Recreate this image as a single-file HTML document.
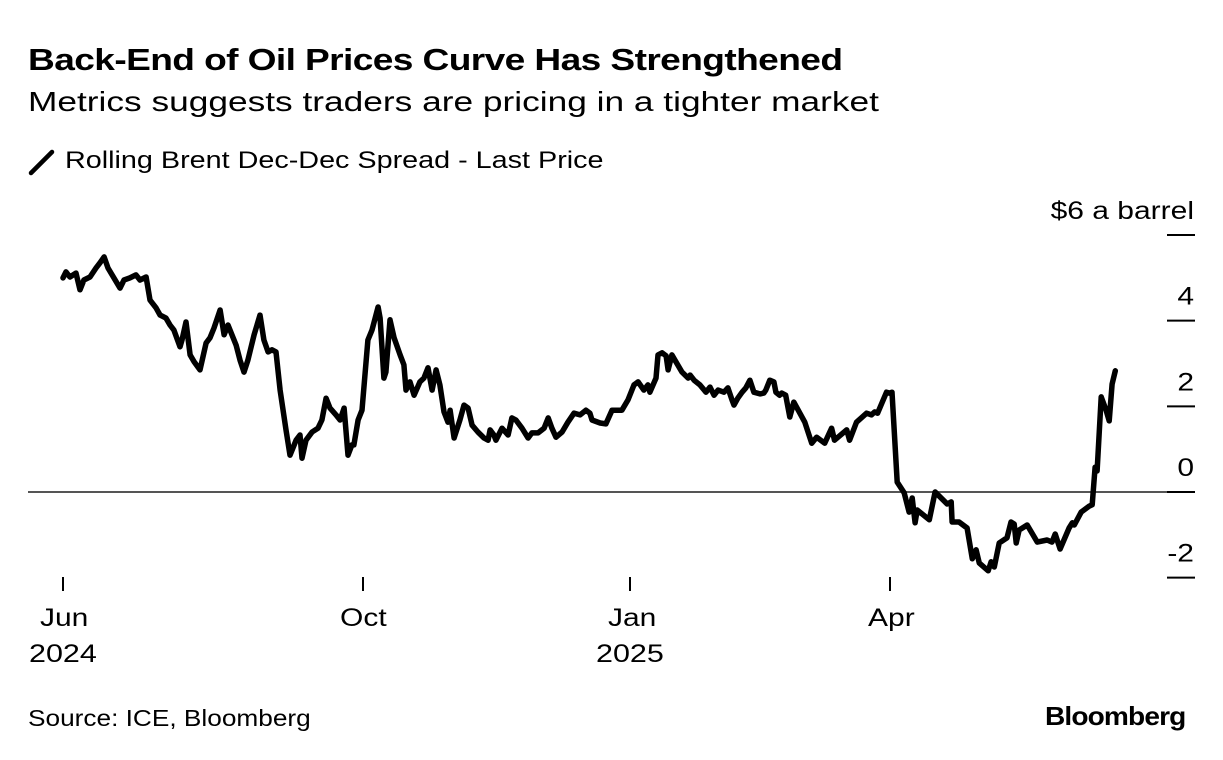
<!DOCTYPE html>
<html><head><meta charset="utf-8">
<style>
html,body{margin:0;padding:0;background:#fff;}
body{width:1223px;height:760px;overflow:hidden;font-family:"Liberation Sans",Arial,sans-serif;color:#000;position:relative;}
.t{position:absolute;white-space:nowrap;transform-origin:0 0;}
</style></head>
<body>
<div class="t" style="left:28px;top:42px;font-size:31px;font-weight:bold;letter-spacing:-0.5px;transform:scaleX(1.197);">Back-End of Oil Prices Curve Has Strengthened</div>
<div class="t" style="left:28px;top:86px;font-size:28px;transform:scaleX(1.26);">Metrics suggests traders are pricing in a tighter market</div>
<svg width="28" height="28" style="position:absolute;left:28px;top:148px"><line x1="3" y1="25" x2="24" y2="4" stroke="#000" stroke-width="4.5" stroke-linecap="round"/></svg>
<div class="t" style="left:65px;top:147px;font-size:24px;transform:scaleX(1.198);">Rolling Brent Dec-Dec Spread - Last Price</div>
<svg id="chart" width="1223" height="760" style="position:absolute;left:0;top:0"></svg>
<div class="t" style="left:28px;top:705px;font-size:23px;transform:scaleX(1.14);">Source: ICE, Bloomberg</div>
<div class="t" style="left:1045px;top:701px;font-size:26px;font-weight:bold;letter-spacing:-0.8px;transform:scaleX(1.08);">Bloomberg</div>
<script>
const days=[0,1.2,2.8,5.3,6.9,8.5,11,13.4,15,16.7,18.3,20.7,23.2,24.8,27.2,29.7,31.3,33.8,35.4,37.8,39.5,41.9,43.5,45.1,47.6,48.4,50,51.7,53.3,55.7,58.2,59.8,61.4,63.9,65.5,67.1,70.4,72,73.6,75.2,77.7,80.1,81.7,83.4,85,86.6,88.3,90.7,92.3,94.8,96.4,97.2,98.8,101.3,103.7,105.3,107,108.6,111,112.7,114.3,115.9,117.5,118.3,120,121.6,
123.7,125.1,127.2,127.9,129.2,129.9,131.3,132.7,134.8,136.1,136.8,138.2,139.6,141.6,143,144.4,145.8,146.5,147.2,148.5,149.9,151.3,152,153.4,155.4,156.8,158.2,159.6,161.6,163.7,165.1,165.8,167.1,167.8,169.9,172,173.3,174.7,176.8,178.9,180.2,182.3,184.4,185.8,187.1,188.5,190.6,192.6,194.7,196.8,198.8,200.2,200.9,203.7,205.7,207.8,209.2,211.2,213.3,
215.4,216.8,218.8,220.2,220.9,223,223.7,225.1,226.5,227.2,228.5,229.9,232,234.1,234.8,236.2,238.2,240.3,241.7,243.1,244.5,246.5,247.9,249.3,250,251.3,252.8,254.1,255.5,256.9,259,260.3,261,262.4,263.8,264.5,265.8,266.5,267.9,269.3,270.7,274.5,276.9,278.6,281.4,283.8,284.8,289,290,292.4,295.9,297.6,298.7,299.7,302.8,303.8,304.7,306.5,308.9,310.6,311.7,312.7,313.4,317.6,319.6,323.8,325.2,325.5,327.9,330.7,332.5,333.8,334.9,338,339,340.1,341.8,344.5,345.9,347,347.7,348.7,351.5,355,358.4,360.1,361.2,362.9,366,367.1,367.8,370.2,373,374,375,375.7,377.1,378.8,379.9,380.9,382];
const spread=[5.00,5.14,5.02,5.11,4.72,4.95,5.02,5.23,5.35,5.49,5.23,5.00,4.76,4.95,5.00,5.07,4.95,5.02,4.48,4.30,4.13,4.06,3.90,3.78,3.39,3.55,3.97,3.20,3.04,2.85,3.48,3.60,3.83,4.25,3.67,3.90,3.43,3.08,2.80,3.08,3.67,4.13,3.55,3.27,3.32,3.27,2.38,1.45,0.86,1.21,1.33,0.79,1.21,1.40,1.49,1.68,2.19,1.96,1.80,1.68,1.96,0.86,1.10,1.10,1.68,1.91,
3.55,3.78,4.32,4.06,2.66,2.80,4.02,3.60,3.20,2.97,2.38,2.57,2.26,2.57,2.66,2.90,2.38,2.61,2.85,2.50,1.87,1.63,1.91,1.26,1.68,2.03,1.96,1.56,1.40,1.26,1.21,1.45,1.33,1.21,1.49,1.33,1.73,1.68,1.49,1.26,1.38,1.38,1.49,1.73,1.49,1.28,1.40,1.63,1.84,1.80,1.91,1.84,1.68,1.61,1.59,1.91,1.91,1.91,2.15,
2.50,2.57,2.38,2.50,2.33,2.66,3.20,3.25,3.18,2.85,3.20,3.04,2.80,2.66,2.73,2.61,2.50,2.33,2.45,2.26,2.38,2.33,2.43,2.15,2.03,2.19,2.33,2.43,2.61,2.33,2.29,2.31,2.38,2.61,2.57,2.33,2.26,2.31,2.26,1.75,2.10,1.63,1.14,1.28,1.14,1.49,1.21,1.45,1.21,1.63,1.84,1.80,1.87,1.84,2.33,2.31,2.33,0.23,-0.02,-0.47,-0.14,-0.72,-0.42,-0.65,0,-0.28,-0.23,-0.70,-0.70,-0.84,-1.56,-1.35,-1.66,-1.84,-1.63,-1.75,-1.19,-1.07,-0.70,-0.75,-1.19,-0.89,-0.77,-1.17,-1.12,-1.17,-0.98,-1.33,-0.84,-0.72,-0.77,-0.47,-0.33,-0.30,0.58,0.49,2.22,1.91,1.66,2.52,2.83];
const yTicks=[6,4,2,0,-2];
const yTickLabels=["$6 a barrel","4","2","0","-2"];
const xTickDays=[0,122,214,304];
const xTickMonths=["Jun","Oct","Jan","Apr"];
const xTickYears=["2024","","2025",""];

const anchorDays=[0,122,214,304,400];
const anchorPx=[63,363,630,890,1167.3];
function xScale(d){
  for(let i=0;i<anchorDays.length-1;i++){
    if(d<=anchorDays[i+1]||i===anchorDays.length-2){
      const t=(d-anchorDays[i])/(anchorDays[i+1]-anchorDays[i]);
      return anchorPx[i]+t*(anchorPx[i+1]-anchorPx[i]);
    }
  }
}
function yScale(v){return 492-v*42.83;}

const svg=document.getElementById('chart');
const NS='http://www.w3.org/2000/svg';
const FF='Liberation Sans, Arial, sans-serif';
function mk(tag,attrs){const e=document.createElementNS(NS,tag);for(const k in attrs)e.setAttribute(k,attrs[k]);svg.appendChild(e);return e;}

yTicks.forEach((v,i)=>{
  const y=yScale(v);
  const tick=mk('line',{x1:1167,x2:1195,y1:y,y2:y,stroke:'#000','stroke-width':2});
  
  
  const lb=mk('text',{x:0,y:0,'text-anchor':'end','font-size':25,'font-family':FF,fill:'#000',transform:'translate(1194,'+(y-16)+') scale(1.2,1)'});
  lb.textContent=yTickLabels[i];
  
  
});
const zero=mk('line',{x1:28,x2:1167,y1:yScale(0),y2:yScale(0),stroke:'#555','stroke-width':2});



xTickDays.forEach((d,i)=>{
  const x=xScale(d);
  const tk=mk('line',{x1:x,x2:x,y1:577,y2:591,stroke:'#000','stroke-width':2});
  
  
  const mOff=[-23,-23,-22,-22][i];
  const m=mk('text',{x:0,y:0,'font-size':25,'font-family':FF,fill:'#000',transform:'translate('+(x+mOff)+',626) scale(1.2,1)'});
  m.textContent=xTickMonths[i];
  
  
  if(xTickYears[i]){
    const yl=mk('text',{x:0,y:0,'font-size':25,'font-family':FF,fill:'#000',transform:'translate('+(x-34)+',662) scale(1.22,1)'});
    yl.textContent=xTickYears[i];
    
    
  }
});

let dpath='';
days.forEach((d,i)=>{dpath+=(i?'L':'M')+xScale(d).toFixed(1)+','+yScale(spread[i]).toFixed(1);});
const line=mk('path',{d:dpath,fill:'none',stroke:'#000','stroke-width':5.5,'stroke-linejoin':'round','stroke-linecap':'round'});


</script>
</body></html>
